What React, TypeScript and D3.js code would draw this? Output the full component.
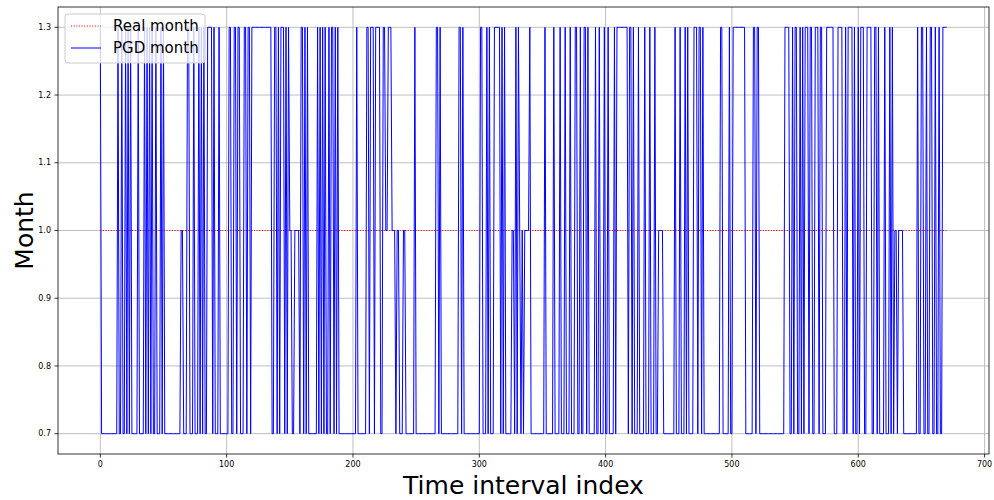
import React, { useEffect, useRef } from 'react';
import * as d3 from 'd3';

const pgdMonthRuns: [number, number][] = [
  [1.3, 1], [0.7, 13], [1.3, 1], [0.7, 2], [1.3, 1], [0.7, 2], [1.3, 1], [0.7, 1], [1.3, 1], [0.7, 1],
  [1.3, 1], [0.7, 5], [1.3, 1], [0.7, 4], [1.3, 1], [0.7, 1], [1.3, 1], [0.7, 1], [1.3, 1], [0.7, 1],
  [1.3, 1], [0.7, 2], [1.3, 1], [0.7, 3], [1.3, 1], [0.7, 1], [1.3, 1], [0.7, 13], [1.0, 2], [0.7, 3],
  [1.3, 2], [0.7, 3], [1.3, 1], [0.7, 3], [1.3, 1], [0.7, 1], [1.3, 1], [0.7, 1], [1.3, 1], [0.7, 2],
  [1.3, 4], [0.7, 1], [1.3, 1], [0.7, 3], [1.3, 1], [0.7, 7], [1.3, 2], [0.7, 2], [1.3, 2], [0.7, 1],
  [1.3, 2], [0.7, 3], [1.3, 2], [0.7, 1], [1.3, 2], [0.7, 1], [1.3, 16], [0.7, 2], [1.3, 2], [0.7, 1],
  [1.3, 1], [0.7, 1], [1.3, 3], [0.7, 1], [1.3, 1], [0.7, 1], [1.3, 1], [1.0, 2], [0.7, 2], [1.0, 4],
  [0.7, 1], [1.3, 2], [0.7, 1], [1.3, 1], [0.7, 1], [1.3, 1], [0.7, 7], [1.3, 1], [0.7, 1], [1.3, 1],
  [0.7, 1], [1.3, 1], [0.7, 1], [1.3, 1], [0.7, 2], [1.3, 1], [0.7, 1], [1.3, 2], [0.7, 1], [1.3, 1],
  [0.7, 1], [1.3, 1], [0.7, 14], [1.3, 1], [0.7, 7], [1.3, 2], [0.7, 1], [1.3, 3], [0.7, 1], [1.3, 4],
  [0.7, 2], [1.3, 2], [1.0, 2], [1.3, 3], [1.0, 3], [0.7, 1], [1.0, 2], [0.7, 3], [1.0, 2], [0.7, 7],
  [1.3, 1], [0.7, 16], [1.3, 2], [0.7, 1], [1.3, 1], [0.7, 14], [1.3, 2], [0.7, 1], [1.3, 1], [0.7, 13],
  [1.3, 2], [0.7, 3], [1.3, 1], [0.7, 1], [1.3, 1], [0.7, 3], [1.3, 5], [0.7, 1], [1.3, 1], [0.7, 1],
  [1.3, 1], [0.7, 5], [1.0, 2], [0.7, 1], [1.3, 1], [0.7, 1], [1.3, 1], [1.0, 1], [0.7, 1], [1.0, 1],
  [0.7, 1], [1.0, 4], [1.3, 1], [0.7, 11], [1.3, 1], [0.7, 6], [1.3, 1], [0.7, 4], [1.3, 1], [0.7, 3],
  [1.3, 1], [0.7, 3], [1.3, 1], [0.7, 3], [1.3, 2], [0.7, 2], [1.3, 1], [0.7, 2], [1.3, 2], [0.7, 1],
  [1.3, 1], [0.7, 5], [1.3, 1], [0.7, 2], [1.3, 1], [0.7, 3], [1.3, 1], [0.7, 2], [1.3, 1], [0.7, 4],
  [1.3, 1], [0.7, 1], [1.3, 9], [0.7, 1], [1.3, 2], [0.7, 1], [1.3, 1], [0.7, 3], [1.3, 1], [0.7, 4],
  [1.3, 1], [0.7, 3], [1.3, 1], [0.7, 3], [1.3, 1], [0.7, 2], [1.0, 4], [0.7, 9], [1.3, 1], [0.7, 3],
  [1.3, 1], [0.7, 3], [1.3, 1], [0.7, 1], [1.3, 1], [0.7, 4], [1.3, 3], [0.7, 1], [1.3, 2], [0.7, 1],
  [1.3, 1], [0.7, 13], [1.3, 2], [0.7, 5], [1.3, 1], [0.7, 2], [1.3, 10], [0.7, 6], [1.3, 2], [0.7, 1],
  [1.3, 2], [0.7, 20], [1.3, 4], [0.7, 2], [1.3, 1], [0.7, 1], [1.3, 2], [0.7, 2], [1.3, 1], [0.7, 1],
  [1.3, 1], [0.7, 1], [1.3, 3], [0.7, 1], [1.3, 2], [0.7, 2], [1.3, 3], [0.7, 1], [1.3, 2], [0.7, 3],
  [1.3, 6], [0.7, 3], [1.3, 4], [0.7, 2], [1.3, 1], [0.7, 1], [1.3, 4], [0.7, 1], [1.3, 1], [0.7, 2],
  [1.3, 1], [0.7, 1], [1.3, 3], [0.7, 2], [1.3, 4], [0.7, 2], [1.3, 2], [0.7, 1], [1.3, 1], [0.7, 4],
  [1.3, 1], [0.7, 3], [1.3, 1], [0.7, 1], [1.3, 1], [0.7, 1], [1.0, 2], [0.7, 1], [1.0, 4], [0.7, 11],
  [1.3, 1], [0.7, 2], [1.3, 2], [0.7, 2], [1.3, 1], [0.7, 2], [1.3, 2], [0.7, 2], [1.3, 1], [0.7, 2],
  [1.3, 1], [0.7, 2], [1.3, 4],
];

// real month is 1.0 over the whole range
const realMonthRuns: [number, number][] = [[1.0, 671]];

const xTicks = [0, 100, 200, 300, 400, 500, 600, 700];
const yTicks = [0.7, 0.8, 0.9, 1.0, 1.1, 1.2, 1.3];

const expand = (runs: [number, number][]) => {
  const out: number[] = [];
  runs.forEach(([v, n]) => { for (let k = 0; k < n; k++) out.push(v); });
  return out;
};

const FONT = '"DejaVu Sans", sans-serif';

const App = () => {
  const ref = useRef<SVGSVGElement | null>(null);

  useEffect(() => {
    const svg = d3.select(ref.current);
    svg.selectAll('*').remove();

    const pgd = expand(pgdMonthRuns);
    const real = expand(realMonthRuns);

    const left = 58, right = 989, top = 7, bottom = 454;
    const x = d3.scaleLinear().domain([-33.5, 703.5]).range([left, right]);
    const y = d3.scaleLinear().domain([0.67, 1.33]).range([bottom, top]);

    // grid
    const grid = svg.append('g');
    xTicks.forEach((t) => {
      grid.append('line').attr('x1', x(t)).attr('x2', x(t)).attr('y1', top).attr('y2', bottom)
        .attr('stroke', '#b0b0b0').attr('stroke-width', 0.8);
    });
    yTicks.forEach((t) => {
      grid.append('line').attr('x1', left).attr('x2', right).attr('y1', y(t)).attr('y2', y(t))
        .attr('stroke', '#b0b0b0').attr('stroke-width', 0.8);
    });

    const line = d3.line<number>().x((d, i) => x(i)).y((d) => y(d));

    svg.append('path').datum(real).attr('d', line).attr('fill', 'none')
      .attr('stroke', 'red').attr('stroke-width', 1).attr('stroke-dasharray', '1,1.65');

    svg.append('path').datum(pgd).attr('d', line).attr('fill', 'none')
      .attr('stroke', 'blue').attr('stroke-width', 1).attr('stroke-linejoin', 'miter');

    // frame
    svg.append('rect').attr('x', left).attr('y', top).attr('width', right - left).attr('height', bottom - top)
      .attr('fill', 'none').attr('stroke', 'black').attr('stroke-width', 0.8);

    // ticks
    const axisG = svg.append('g').style('font-family', FONT).style('font-size', '8px');
    xTicks.forEach((t) => {
      axisG.append('line').attr('x1', x(t)).attr('x2', x(t)).attr('y1', bottom).attr('y2', bottom + 3.5)
        .attr('stroke', 'black').attr('stroke-width', 0.8);
      axisG.append('text').attr('x', x(t)).attr('y', bottom + 13).attr('text-anchor', 'middle').text(String(t));
    });
    yTicks.forEach((t) => {
      axisG.append('line').attr('x1', left - 3.5).attr('x2', left).attr('y1', y(t)).attr('y2', y(t))
        .attr('stroke', 'black').attr('stroke-width', 0.8);
      axisG.append('text').attr('x', left - 7).attr('y', y(t)).attr('dy', '0.32em')
        .attr('text-anchor', 'end').text(d3.format('.1f')(t));
    });

    // axis labels
    svg.append('text').attr('x', (left + right) / 2).attr('y', 494).attr('text-anchor', 'middle')
      .style('font-family', FONT).style('font-size', '25px').text('Time interval index');
    svg.append('text').attr('transform', `translate(33,${(top + bottom) / 2}) rotate(-90)`)
      .attr('text-anchor', 'middle').style('font-family', FONT).style('font-size', '25px').text('Month');

    // legend
    const lg = svg.append('g');
    lg.append('rect').attr('x', 65).attr('y', 14).attr('width', 140).attr('height', 49).attr('rx', 3)
      .attr('fill', 'white').attr('fill-opacity', 0.8).attr('stroke', '#cccccc').attr('stroke-width', 1);
    lg.append('line').attr('x1', 71).attr('x2', 101).attr('y1', 26).attr('y2', 26)
      .attr('stroke', 'red').attr('stroke-width', 1).attr('stroke-dasharray', '1,1.65');
    lg.append('line').attr('x1', 71).attr('x2', 101).attr('y1', 48).attr('y2', 48)
      .attr('stroke', 'blue').attr('stroke-width', 1);
    lg.append('text').attr('x', 113).attr('y', 26).attr('dy', '0.35em')
      .style('font-family', FONT).style('font-size', '15px').text('Real month');
    lg.append('text').attr('x', 113).attr('y', 48).attr('dy', '0.35em')
      .style('font-family', FONT).style('font-size', '15px').text('PGD month');
  }, []);

  return (
    <svg ref={ref} width={994} height={500}
      style={{ position: 'absolute', left: 0, top: 0, background: 'white' }} />
  );
};

export default App;
